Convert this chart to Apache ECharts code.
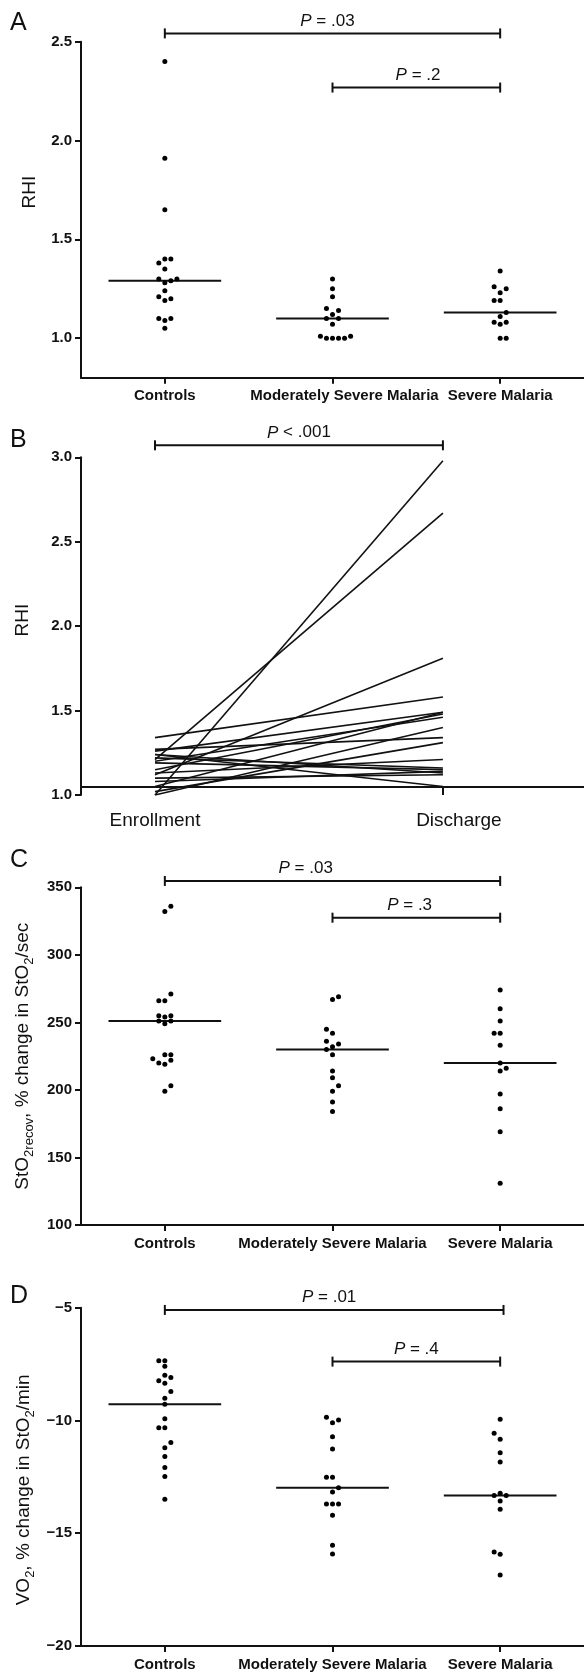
<!DOCTYPE html>
<html>
<head>
<meta charset="utf-8">
<script src="https://cdn.jsdelivr.net/npm/echarts@6/dist/echarts.min.js"></script>
<style>
html,body{margin:0;padding:0;background:#fff;}
#c{width:584px;height:1673px;}
</style>
</head>
<body>
<div id="c"></div>
<script>
// ---------- DATA ----------
const categories = ['Controls', 'Moderately Severe Malaria', 'Severe Malaria'];
const timepoints = ['Enrollment', 'Discharge'];

// Panel A: RHI by group (value, beeswarm column)
const rhiControls = [2.40,1.91,1.65,1.40,1.40,1.38,1.35,1.30,1.30,1.29,1.28,1.24,1.21,1.20,1.19,1.10,1.10,1.09,1.05];
const rhiControlsCol = [0,0,0,0,1,-1,0,-1,2,1,0,0,-1,1,0,-1,1,0,0];
const rhiModerate = [1.30,1.25,1.21,1.15,1.14,1.12,1.10,1.10,1.07,1.01,1.00,1.00,1.00,1.00,1.01];
const rhiModerateCol = [0,0,0,-1,1,0,-1,1,0,-2,-1,0,1,2,3];
const rhiSevere = [1.34,1.26,1.25,1.23,1.19,1.19,1.13,1.11,1.08,1.08,1.07,1.00,1.00];
const rhiSevereCol = [0,-1,1,0,-1,0,1,0,-1,1,0,0,1];
const rhiMedians = [1.29,1.10,1.13];
// [from, to, level, textX, p]
const rhiPValues = [[1,3,2.542,1.97,'= .03'],[2,3,2.268,2.51,'= .2']];

// Panel B: paired RHI, enrollment -> discharge
const rhiEnrollment = [1.00,1.21,1.12,1.34,1.26,1.05,1.15,1.20,1.00,1.27,1.02,1.13,1.22,1.19,1.08,1.24,1.10,1.24];
const rhiDischarge  = [2.98,2.67,1.81,1.58,1.49,1.49,1.48,1.46,1.40,1.34,1.31,1.21,1.16,1.15,1.14,1.13,1.12,1.05];
const rhiPairedBaseline = 1.05;
const rhiPairedPValues = [[1,2,3.071,1.5,'< .001']];

// Panel C: StO2recov
const sto2Controls = [336,332,271,266,266,255,255,254,251,251,249,226,226,223,222,220,219,203,199];
const sto2ControlsCol = [1,0,1,-1,0,-1,1,0,-1,1,0,0,1,-2,1,-1,0,1,0];
const sto2Moderate = [267,269,245,242,236,234,232,230,226,214,209,203,199,191,184];
const sto2ModerateCol = [0,1,-1,0,-1,1,0,-1,0,0,0,1,0,0,0];
const sto2Severe = [274,260,251,242,242,233,220,216,214,197,186,169,131];
const sto2SevereCol = [0,0,0,-1,0,0,0,1,0,0,0,0,0];
const sto2Medians = [251,230,220];
const sto2PValues = [[1,3,354.7,1.84,'= .03'],[2,3,327.5,2.46,'= .3']];

// Panel D: VO2
const vo2Controls = [-7.35,-7.35,-7.6,-8.0,-8.1,-8.24,-8.35,-8.72,-9.02,-9.28,-9.92,-10.32,-10.32,-10.98,-11.21,-11.6,-12.09,-12.49,-13.49];
const vo2ControlsCol = [-1,0,0,0,1,-1,0,1,0,0,0,-1,0,1,0,0,0,0,0];
const vo2Moderate = [-9.86,-9.98,-10.10,-10.72,-11.26,-12.52,-12.52,-12.98,-13.17,-13.70,-13.70,-13.70,-14.2,-15.53,-15.92];
const vo2ModerateCol = [-1,1,0,0,0,-1,0,1,0,-1,0,1,0,0,0];
const vo2Severe = [-9.95,-10.57,-10.83,-11.43,-11.84,-13.33,-13.23,-13.33,-13.57,-13.94,-15.83,-15.93,-16.85];
const vo2SevereCol = [0,-1,0,0,0,-1,0,1,0,0,-1,0,0];
const vo2Medians = [-9.28,-12.98,-13.33];
const vo2PValues = [[1,3.02,-5.10,1.98,'= .01'],[2,3,-7.39,2.50,'= .4']];

// ---------- STYLE ----------
const FONT = "'Liberation Sans', Arial, Helvetica, sans-serif";
const INK = '#000';
const COL_STEP = 0.036;
const MEDIAN_HALF = 0.336;

const chart = echarts.init(document.getElementById('c'), null, {renderer: 'canvas'});

const grids = [
  {left: 81, right: 0, top: 41.7, height: 336},
  {left: 81, right: 0, top: 457.3, height: 337.7},
  {left: 81, right: 0, top: 887.3, height: 337.7},
  {left: 81, right: 0, top: 1307.7, height: 338.3}
].map(g => Object.assign({outerBoundsMode: 'none', containLabel: false}, g));

const axisLineStyle = {color: '#111', width: 2};
const tickLabel = {color: '#111', fontSize: 15, fontWeight: 'bold', fontFamily: FONT, margin: 9};

function groupXAxis(gi, shiftMid) {
  return {
    type: 'value', gridIndex: gi, min: 0.5, max: 3.5,
    splitLine: {show: false},
    axisLine: {show: true, onZero: false, lineStyle: axisLineStyle},
    axisTick: {show: true, customValues: [1, 2, 3], length: 6, lineStyle: axisLineStyle},
    axisLabel: {customValues: [1, 2, 3],
      formatter: v => {
        const k = Math.round(v) - 1;
        return (k === 1 && shiftMid) ? '{m|' + categories[k] + '}' : categories[k];
      },
      color: '#111', fontSize: 15, fontWeight: 'bold', fontFamily: FONT, margin: 11,
      rich: {m: {color: '#111', fontSize: 15, fontWeight: 'bold', fontFamily: FONT, padding: [0, 0, 0, 24]}}}
  };
}

const xAxes = [
  groupXAxis(0, true),
  {
    type: 'value', gridIndex: 1, min: 0.743, max: 2.49,
    splitLine: {show: false},
    axisLine: {show: false, onZero: false},
    axisTick: {show: true, customValues: [2], inside: true, length: 8, lineStyle: axisLineStyle},
    axisLabel: {customValues: [1, 2],
      formatter: v => (Math.round(v) === 2 ? '{d|' + timepoints[1] + '}' : '{e|' + timepoints[0] + '}'),
      color: '#111', fontSize: 19, fontFamily: FONT, margin: 16,
      rich: {d: {fontSize: 19, fontFamily: FONT, color: '#111', padding: [0, 0, 0, 32]},
             e: {fontSize: 19, fontFamily: FONT, color: '#111'}}}
  },
  groupXAxis(2, false),
  groupXAxis(3, false)
];

const nameRich = {
  n: {fontSize: 19, fontFamily: FONT, color: '#111', lineHeight: 26},
  s: {fontSize: 13, fontFamily: FONT, color: '#111', lineHeight: 13, verticalAlign: 'bottom'}
};

const yAxes = [
  {
    type: 'value', gridIndex: 0, min: 0.8, max: 2.5,
    splitLine: {show: false},
    axisLine: {show: true, onZero: false, lineStyle: axisLineStyle},
    axisTick: {show: true, customValues: [1, 1.5, 2, 2.5], length: 6, lineStyle: axisLineStyle},
    axisLabel: Object.assign({customValues: [1, 1.5, 2, 2.5], formatter: v => v.toFixed(1)}, tickLabel),
    name: 'RHI', nameLocation: 'middle', nameGap: 42, nameMoveOverlap: false,
    nameTextStyle: {fontSize: 19, fontFamily: FONT, color: '#111', padding: [0, 0, 0, 35]}
  },
  {
    type: 'value', gridIndex: 1, min: 1, max: 3, interval: 0.5,
    splitLine: {show: false},
    axisLine: {show: true, onZero: false, lineStyle: axisLineStyle},
    axisTick: {show: true, length: 6, lineStyle: axisLineStyle},
    axisLabel: Object.assign({formatter: v => v.toFixed(1)}, tickLabel),
    name: 'RHI', nameLocation: 'middle', nameGap: 49, nameMoveOverlap: false,
    nameTextStyle: {fontSize: 19, fontFamily: FONT, color: '#111', padding: [0, 0, 0, 12]}
  },
  {
    type: 'value', gridIndex: 2, min: 100, max: 350, interval: 50,
    splitLine: {show: false},
    axisLine: {show: true, onZero: false, lineStyle: axisLineStyle},
    axisTick: {show: true, length: 6, lineStyle: axisLineStyle},
    axisLabel: Object.assign({}, tickLabel),
    name: '{n|StO}{s|2recov}{n|, % change in StO}{s|2}{n|/sec}',
    nameLocation: 'middle', nameGap: 45, nameMoveOverlap: false,
    nameTextStyle: {fontSize: 19, fontFamily: FONT, color: '#111', rich: nameRich}
  },
  {
    type: 'value', gridIndex: 3, min: -20, max: -5, interval: 5,
    splitLine: {show: false},
    axisLine: {show: true, onZero: false, lineStyle: axisLineStyle},
    axisTick: {show: true, length: 6, lineStyle: axisLineStyle},
    axisLabel: Object.assign({formatter: v => String(v).replace('-', '\u2212')}, tickLabel),
    name: '{n|VO}{s|2}{n|, % change in StO}{s|2}{n|/min}',
    nameLocation: 'middle', nameGap: 44, nameMoveOverlap: false,
    nameTextStyle: {fontSize: 19, fontFamily: FONT, color: '#111', rich: nameRich, padding: [0, 26, 0, 0]}
  }
];

const series = [];

function addDots(ai, vals, cols, catIdx) {
  series.push({
    type: 'scatter', xAxisIndex: ai, yAxisIndex: ai, symbol: 'circle', symbolSize: 5,
    itemStyle: {color: INK, opacity: 1}, silent: true,
    data: vals.map((v, i) => [catIdx + 1 + cols[i] * COL_STEP, v])
  });
}

function addMedians(ai, meds) {
  series.push({
    type: 'custom', xAxisIndex: ai, yAxisIndex: ai, silent: true, clip: false,
    data: meds.map((m, i) => [i + 1, m]),
    renderItem: (p, api) => {
      const x = api.value(0), y = api.value(1);
      const a = api.coord([x - MEDIAN_HALF, y]), b = api.coord([x + MEDIAN_HALF, y]);
      return {type: 'line', shape: {x1: a[0], y1: a[1], x2: b[0], y2: b[1]},
              style: {stroke: '#111', lineWidth: 2}};
    }
  });
}

function addBrackets(ai, rows) {
  series.push({
    type: 'custom', xAxisIndex: ai, yAxisIndex: ai, silent: true, clip: false,
    data: rows.map(r => [r[0], r[2]]),
    renderItem: (p, api) => {
      const r = rows[p.dataIndex];
      const a = api.coord([r[0], r[2]]), b = api.coord([r[1], r[2]]);
      const t = api.coord([r[3], r[2]]);
      const cap = 5;
      return {type: 'group', children: [
        {type: 'line', shape: {x1: a[0], y1: a[1], x2: b[0], y2: b[1]}, style: {stroke: '#111', lineWidth: 2}},
        {type: 'line', shape: {x1: a[0], y1: a[1] - cap, x2: a[0], y2: a[1] + cap}, style: {stroke: '#111', lineWidth: 2}},
        {type: 'line', shape: {x1: b[0], y1: b[1] - cap, x2: b[0], y2: b[1] + cap}, style: {stroke: '#111', lineWidth: 2}},
        {type: 'text', x: t[0], y: a[1] - 4, style: {
          text: '{i|P} ' + r[4], fill: '#111', fontSize: 17, fontFamily: FONT,
          align: 'center', verticalAlign: 'bottom',
          rich: {i: {fontStyle: 'italic', fontSize: 17, fontFamily: FONT, fill: '#111'}}
        }}
      ]};
    }
  });
}

// Panel A
addDots(0, rhiControls, rhiControlsCol, 0);
addDots(0, rhiModerate, rhiModerateCol, 1);
addDots(0, rhiSevere, rhiSevereCol, 2);
addMedians(0, rhiMedians);
addBrackets(0, rhiPValues);

// Panel B
rhiEnrollment.forEach((e, i) => {
  const s = {
    type: 'line', xAxisIndex: 1, yAxisIndex: 1, symbol: 'none', silent: true,
    lineStyle: {color: '#111', width: 1.6},
    data: [[1, e], [2, rhiDischarge[i]]]
  };
  if (i === 0) {
    s.markLine = {silent: true, symbol: 'none', label: {show: false},
      lineStyle: {color: '#111', width: 2, type: 'solid'},
      data: [{yAxis: rhiPairedBaseline}]};
  }
  series.push(s);
});
addBrackets(1, rhiPairedPValues);

// Panel C
addDots(2, sto2Controls, sto2ControlsCol, 0);
addDots(2, sto2Moderate, sto2ModerateCol, 1);
addDots(2, sto2Severe, sto2SevereCol, 2);
addMedians(2, sto2Medians);
addBrackets(2, sto2PValues);

// Panel D
addDots(3, vo2Controls, vo2ControlsCol, 0);
addDots(3, vo2Moderate, vo2ModerateCol, 1);
addDots(3, vo2Severe, vo2SevereCol, 2);
addMedians(3, vo2Medians);
addBrackets(3, vo2PValues);

const letters = [['A', 11], ['B', 427.5], ['C', 847.5], ['D', 1283.5]];

chart.setOption({
  animation: false,
  backgroundColor: '#fff',
  textStyle: {fontFamily: FONT},
  grid: grids,
  xAxis: xAxes,
  yAxis: yAxes,
  graphic: letters.map(l => ({
    type: 'text', left: 10, top: l[1],
    style: {text: l[0], fontSize: 25, fontFamily: FONT, fill: '#111'}
  })),
  series: series
});
</script>
</body>
</html>
